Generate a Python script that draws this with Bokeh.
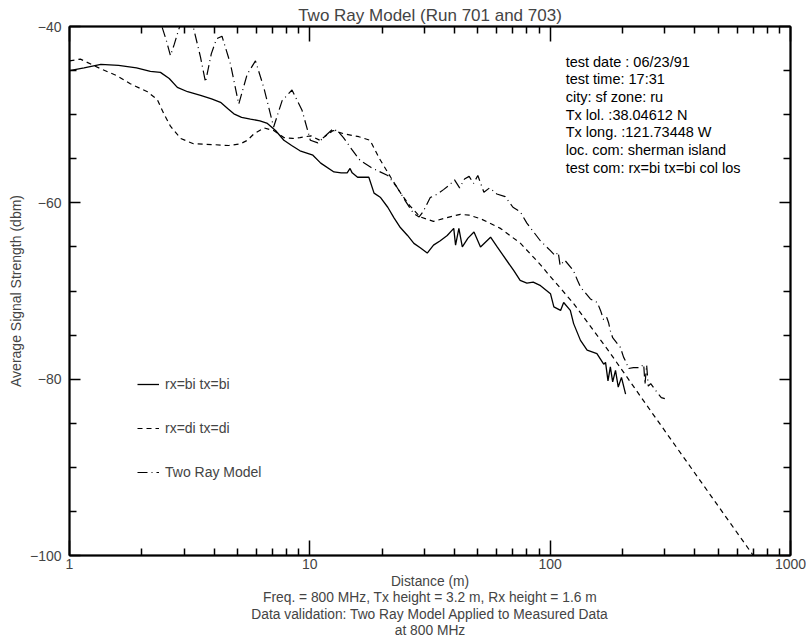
from bokeh.plotting import figure
from bokeh.models import LogAxis, LinearAxis, FixedTicker, Legend, LegendItem, BasicTickFormatter
from bokeh.embed import file_html
from bokeh.resources import INLINE
from bokeh.core.properties import value

FONT = "Liberation Sans"

# ---------------- data ----------------
bi_x = [1.0, 1.15, 1.35, 1.6, 1.9, 2.17, 2.39, 2.6, 2.81, 3.1, 3.51, 3.9, 4.25, 4.55, 4.83, 5.2,
        5.66, 6.2, 6.66, 7.2, 7.8, 8.4, 9.1, 10.3, 11.1, 12.6, 13.5, 14.3, 14.7, 15.0, 15.8, 16.7,
        17.6, 18.5, 19.7, 21.1, 22.4, 23.8, 25.5, 27.1, 28.8, 30.8, 32.7, 34.9, 37.3, 39.7, 40.4,
        41.7, 43.1, 45.5, 48.2, 51.3, 56.5, 60.2, 70.6, 75.0, 80.0, 85.0, 91.2, 100.3, 103.6, 110.5,
        113.8, 121.3, 125.2, 133.7, 142.5, 156.5, 167.0, 170.0, 174.0, 178.0, 182.0, 187.0, 192.0,
        198.0, 206.0]
bi_y = [-45.0, -44.7, -44.3, -44.4, -44.7, -45.1, -45.2, -45.9, -46.9, -47.4, -47.8, -48.2, -48.6,
        -49.3, -49.9, -50.3, -50.5, -50.7, -51.0, -51.8, -52.9, -53.5, -54.1, -54.6, -55.5, -56.5,
        -56.6, -56.6, -56.1, -56.6, -57.1, -57.1, -57.1, -58.9, -59.4, -60.5, -61.7, -62.8, -63.7,
        -64.6, -65.1, -65.7, -64.8, -64.3, -63.7, -62.9, -64.8, -62.9, -65.0, -64.0, -63.3, -65.0,
        -63.9, -65.0, -67.7, -68.8, -69.1, -69.0, -69.4, -70.3, -71.8, -72.2, -71.3, -72.2, -73.7,
        -75.6, -76.7, -77.1, -78.3, -78.1, -80.2, -78.6, -80.3, -79.0, -80.9, -79.8, -81.7]

di_x = [1.0, 1.11, 1.35, 1.58, 1.79, 2.11, 2.32, 2.47, 2.63, 2.9, 3.28, 3.97, 4.6, 5.15, 5.5,
        5.84, 6.45, 7.07, 7.8, 8.5, 9.1, 10.1, 11.0, 12.5, 14.0, 16.0, 17.8, 19.5, 21.7, 24.0,
        26.0, 28.8, 32.7, 37.0, 42.3, 46.0, 51.3, 56.0, 62.1, 75.3, 91.0, 97.6, 125.0, 172.0,
        262.0, 700.0]
di_y = [-43.9, -43.7, -44.8, -45.6, -46.5, -47.4, -48.3, -49.9, -51.3, -52.7, -53.3, -53.4, -53.5,
        -53.3, -52.9, -52.2, -51.5, -51.8, -52.6, -52.7, -52.6, -52.4, -52.9, -51.8, -52.2, -52.5,
        -52.9, -55.0, -57.1, -59.0, -60.3, -61.6, -62.1, -61.7, -61.3, -61.4, -61.8, -62.3, -62.9,
        -64.6, -67.0, -68.0, -71.4, -76.5, -83.6, -100.0]

tr_x = [2.43, 2.53, 2.63, 2.73, 2.85, 3.0, 3.15, 3.29, 3.51, 3.68, 3.89, 4.09, 4.31, 4.67, 5.06,
        5.49, 5.94, 6.43, 7.07, 7.67, 8.43, 9.28, 10.05, 10.8, 11.5, 12.5, 13.2, 13.8, 15.0, 16.2,
        18.0, 21.1, 23.0, 25.0, 27.0, 28.5, 29.6, 31.7, 34.0, 36.0, 38.0, 40.0, 42.0, 44.0, 46.0,
        48.0, 50.0, 53.0, 56.0, 60.0, 65.0, 70.0, 75.0, 80.0, 91.0, 100.0, 105.0, 108.0, 110.0,
        115.0, 125.0, 130.0, 134.0, 140.0, 147.0, 157.0, 162.0, 167.0, 172.0, 175.0, 178.0, 182.0,
        196.0, 202.0, 208.0, 211.0, 222.0, 237.0, 245.0, 248.0, 252.0, 256.0, 262.0, 275.0, 290.0,
        300.0]
tr_y = [-40.1, -41.6, -43.3, -42.0, -40.3, -38.8, -38.8, -40.3, -43.5, -46.3, -43.1, -41.4, -41.1,
        -44.2, -48.8, -45.4, -43.9, -46.9, -51.4, -48.4, -47.2, -49.5, -52.9, -53.2, -52.5, -51.6,
        -52.0, -52.6, -54.0, -55.2, -56.0, -56.9, -58.2, -59.8, -61.2, -61.6, -61.0, -59.4, -59.0,
        -58.5, -58.0, -57.4, -58.3, -57.3, -57.0, -57.8, -56.9, -58.8, -58.3, -59.0, -59.3, -60.5,
        -61.0, -62.3, -64.3, -65.4, -66.0, -65.6, -67.1, -66.5, -67.7, -68.8, -69.6, -70.2, -70.9,
        -71.3, -72.2, -73.3, -73.0, -73.6, -74.5, -75.3, -76.4, -77.5, -78.2, -78.8, -78.7, -78.7,
        -78.3, -80.6, -78.4, -80.8, -80.5, -81.3, -82.1, -82.2]

series_names = ["rx=bi tx=bi", "rx=di tx=di", "Two Ray Model"]

x_major = [1, 10, 100, 1000]
x_minor = [m * 10 ** d for d in range(3) for m in range(2, 10)]
y_major = [-100, -80, -60, -40]
y_minor = [-95, -90, -85, -75, -70, -65, -55, -50, -45]

info_lines = ["test date : 06/23/91", "test time:  17:31", "city: sf zone: ru",
              "Tx lol. :38.04612 N", "Tx long. :121.73448 W", "loc. com:  sherman island",
              "test com:  rx=bi tx=bi col los"]

title_text = "Two Ray Model (Run 701 and 703)"
x_label = ("Distance (m)\nFreq. = 800 MHz, Tx height = 3.2 m, Rx height = 1.6 m\n"
           "Data validation: Two Ray Model Applied to Measured Data\nat 800 MHz")
y_label = "Average Signal Strength (dbm)"

# ---------------- figure ----------------
p = figure(width=806, height=643, x_axis_type="log", x_range=(1, 1000), y_range=(-100, -40),
           output_backend="svg", toolbar_location=None,
           min_border_left=69, min_border_right=16, min_border_top=26, min_border_bottom=88)
p.background_fill_color = "white"
p.border_fill_color = "white"
p.outline_line_color = "black"
p.outline_line_width = 1.5
p.xgrid.visible = False
p.ygrid.visible = False

p.title.text = title_text
p.title.align = "center"
p.title.text_font = FONT
p.title.text_font_size = "17px"
p.title.text_font_style = "normal"
p.title.standoff = 4


def style_axis(ax, major_len, labels):
    ax.axis_line_width = 2
    ax.major_tick_in = major_len
    ax.major_tick_out = 0
    ax.minor_tick_in = 7
    ax.minor_tick_out = 0
    ax.major_tick_line_width = 1.5
    ax.minor_tick_line_width = 1.5
    ax.major_label_text_font = FONT
    ax.major_label_text_font_size = "14px"
    ax.axis_label_text_font = FONT
    ax.axis_label_text_font_size = "14px"
    ax.axis_label_text_font_style = "normal"
    if not labels:
        ax.major_label_standoff = 0


xb = p.xaxis[0]
xb.ticker = FixedTicker(ticks=x_major, minor_ticks=x_minor)
xb.formatter = BasicTickFormatter()
style_axis(xb, 15, True)
xb.major_label_standoff = 3
xb.axis_label = x_label
xb.axis_label_standoff = 2
xb.axis_label_text_font_size = "13.8px"
xb.axis_label_text_line_height = 1.11

yl = p.yaxis[0]
yl.ticker = FixedTicker(ticks=y_major, minor_ticks=y_minor)
style_axis(yl, 11, True)
yl.major_label_standoff = 8
yl.axis_label = y_label
yl.axis_label_standoff = 3

xt = LogAxis(ticker=FixedTicker(ticks=x_major, minor_ticks=x_minor),
             major_label_overrides={t: "" for t in x_major})
style_axis(xt, 15, False)
p.add_layout(xt, "above")

yr = LinearAxis(ticker=FixedTicker(ticks=y_major, minor_ticks=y_minor),
                major_label_overrides={t: "" for t in y_major})
style_axis(yr, 11, False)
p.add_layout(yr, "right")

# ---------------- curves ----------------
r_bi = p.line(bi_x, bi_y, line_color="black", line_width=1.3)
r_di = p.line(di_x, di_y, line_color="black", line_width=1.2, line_dash="5 4")
r_tr = p.line(tr_x, tr_y, line_color="black", line_width=1.2, line_dash="10 4 1 4")

legend = Legend(items=[LegendItem(label=series_names[0], renderers=[r_bi]),
                       LegendItem(label=series_names[1], renderers=[r_di]),
                       LegendItem(label=series_names[2], renderers=[r_tr])],
                location=(68, 73), background_fill_alpha=0, border_line_color=None,
                padding=0, margin=0, spacing=24, glyph_width=22, glyph_height=20,
                label_height=20, label_standoff=6, label_text_font=FONT,
                label_text_font_size="14px")
p.add_layout(legend)

# ---------------- info block ----------------
info_y = [-44.0 - 2.0 * i for i in range(len(info_lines))]
p.text(x=[116.0] * len(info_lines), y=info_y, text=info_lines, text_font=value(FONT),
       text_font_size="14.5px", text_baseline="middle", text_align="left", text_color="black")

open("out.html", "w").write(file_html(p, INLINE))
